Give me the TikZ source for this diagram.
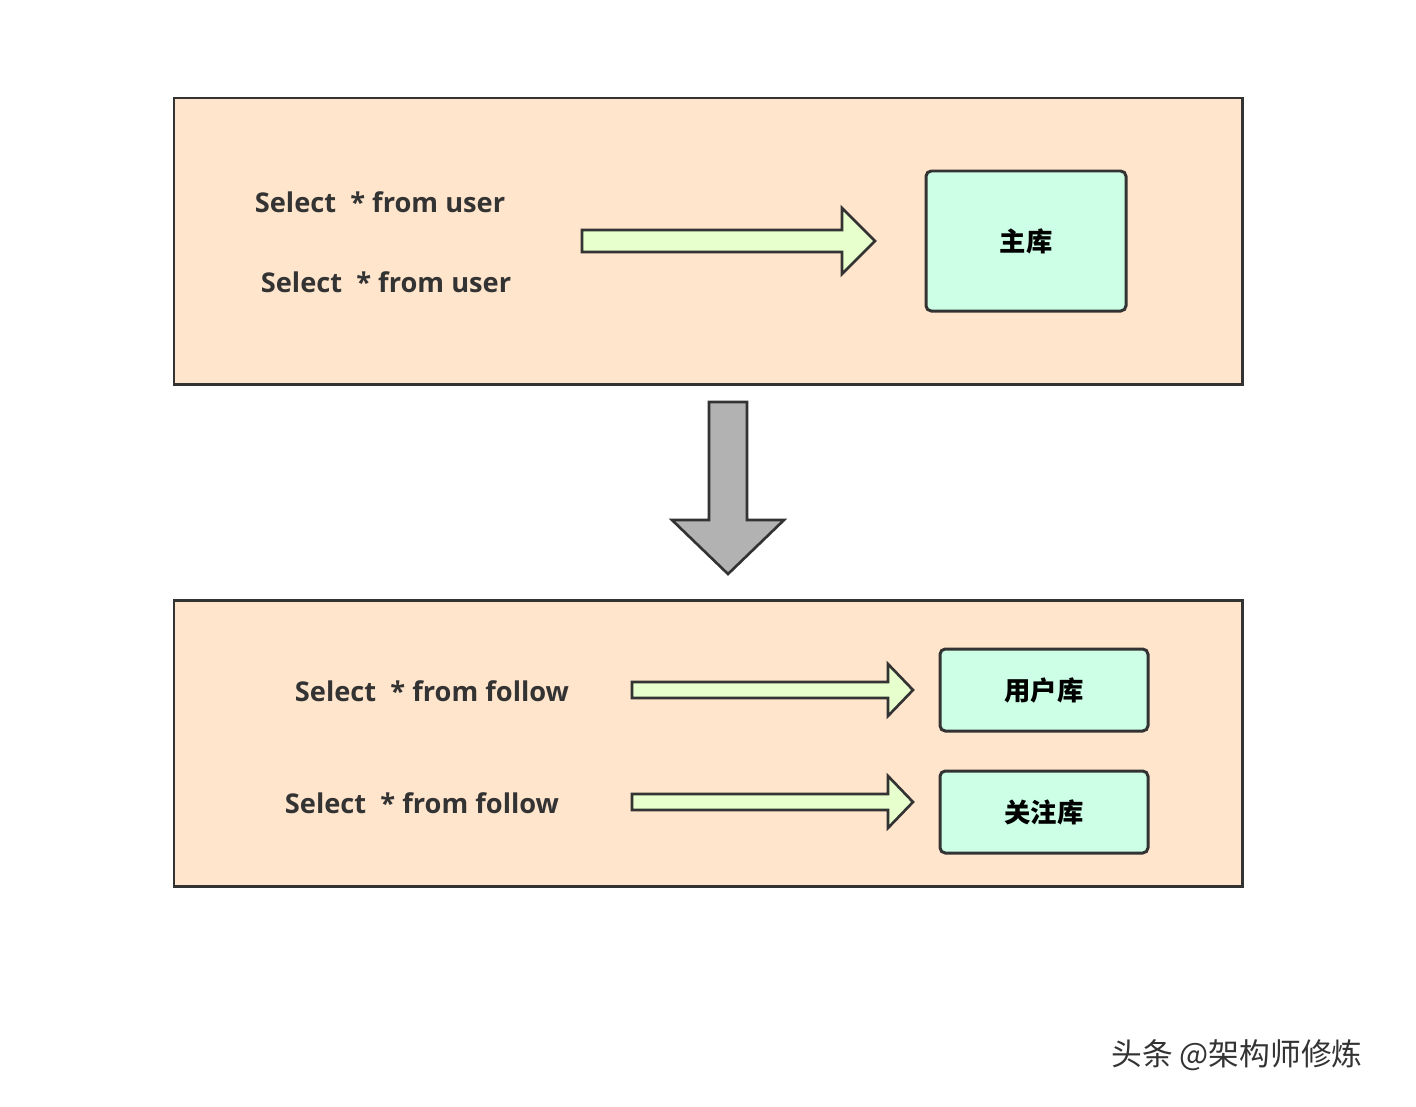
\documentclass[tikz,border=0pt]{standalone}
\usepackage{fontspec}
\setmainfont{Open Sans}
\newfontfamily\cjk{Noto Sans CJK SC}
\usetikzlibrary{positioning}
\definecolor{peach}{HTML}{FFE5CC}
\definecolor{mint}{HTML}{CCFFE6}
\definecolor{lime}{HTML}{E6FFCC}
\definecolor{edge}{HTML}{333333}
\begin{document}
\begin{tikzpicture}[x=0.02cm, y=-0.02cm,
    frame/.style={draw=edge, fill=peach, line width=1.7pt},
    db/.style={draw=edge, fill=mint, line width=1.7pt, rounded corners=3pt, font=\cjk\bfseries\fontsize{15}{18}\selectfont},
    sql/.style={font=\bfseries\fontsize{15.5}{18}\selectfont, text=edge},
    hollow/.style={draw=edge, fill=lime, line width=1.5pt, line join=miter}]
            \useasboundingbox (0,0) rectangle (1416,1106);
            \draw[frame] (174,98) rectangle (1242,384);
            \draw[frame] (174,600) rectangle (1242,886);

            \node[db, minimum width=200*0.02cm, minimum height=140*0.02cm] (main) at (1026,241) {主库};
            \node[db, minimum width=208*0.02cm, minimum height=82*0.02cm] (userdb) at (1044,690) {用户库};
            \node[db, minimum width=208*0.02cm, minimum height=82*0.02cm] (followdb) at (1044,812) {关注库};

            \node[sql] (q_1) at (380,202) {Select\ \ * from user};
            \node[sql] (q_2) at (386,282) {Select\ \ * from user};
            \node[sql] (q_3) at (432,691) {Select\ \ * from follow};
            \node[sql] (q_4) at (422,803) {Select\ \ * from follow};

            \draw[hollow] (582,230) -- (842,230) -- (842,208) -- (875,241) -- (842,274) -- (842,252) -- (582,252) -- cycle;
            \foreach \y in {690,802}
                \draw[hollow] (632,\y-8) -- (888,\y-8) -- (888,\y-26) -- (913,\y) -- (888,\y+26) -- (888,\y+8) -- (632,\y+8) -- cycle;
            \draw[hollow, fill=black!30] (709,402) -- (747,402) -- (747,520) -- (784,520) -- (728,574) -- (672,520) -- (709,520) -- cycle;

            \node[font=\cjk\fontsize{17.5}{20}\selectfont, text=edge] (mark) at (1237,1055) {头条 @架构师修炼};
\end{tikzpicture}
\end{document}
